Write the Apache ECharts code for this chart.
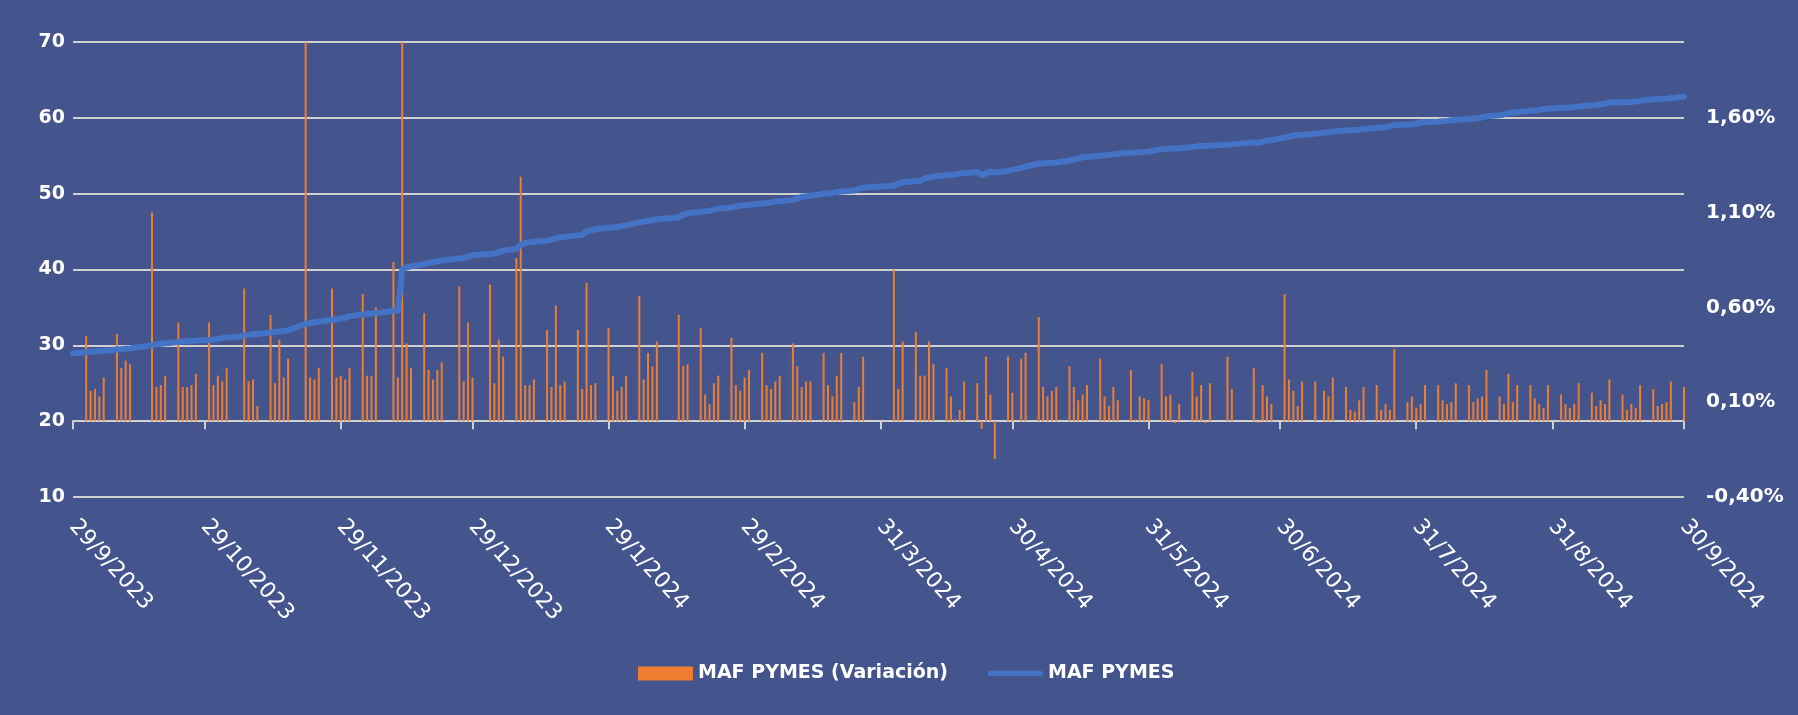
<!DOCTYPE html>
<html>
<head>
<meta charset="utf-8">
<script src="https://cdn.jsdelivr.net/npm/echarts@6/dist/echarts.min.js"></script>
<style>
  html, body { margin: 0; padding: 0; background: #44548C; }
  #chart { width: 1798px; height: 715px; }
</style>
</head>
<body>
<div id="chart"></div>
<script>
// fechas con dato (días hábiles)
const fechas = [
  '29/9/2023',
  '2/10/2023','3/10/2023','4/10/2023','5/10/2023','6/10/2023','9/10/2023','10/10/2023','11/10/2023','12/10/2023','17/10/2023','18/10/2023','19/10/2023','20/10/2023','23/10/2023','24/10/2023','25/10/2023','26/10/2023','27/10/2023','30/10/2023','31/10/2023',
  '1/11/2023','2/11/2023','3/11/2023','6/11/2023','7/11/2023','8/11/2023','9/11/2023','10/11/2023','13/11/2023','14/11/2023','15/11/2023','16/11/2023','17/11/2023','21/11/2023','22/11/2023','23/11/2023','24/11/2023','27/11/2023','28/11/2023','29/11/2023','30/11/2023',
  '1/12/2023','4/12/2023','5/12/2023','6/12/2023','7/12/2023','11/12/2023','12/12/2023','13/12/2023','14/12/2023','15/12/2023','18/12/2023','19/12/2023','20/12/2023','21/12/2023','22/12/2023','26/12/2023','27/12/2023','28/12/2023','29/12/2023',
  '2/1/2024','3/1/2024','4/1/2024','5/1/2024','8/1/2024','9/1/2024','10/1/2024','11/1/2024','12/1/2024','15/1/2024','16/1/2024','17/1/2024','18/1/2024','19/1/2024','22/1/2024','23/1/2024','24/1/2024','25/1/2024','26/1/2024','29/1/2024','30/1/2024','31/1/2024',
  '1/2/2024','2/2/2024','5/2/2024','6/2/2024','7/2/2024','8/2/2024','9/2/2024','14/2/2024','15/2/2024','16/2/2024','19/2/2024','20/2/2024','21/2/2024','22/2/2024','23/2/2024','26/2/2024','27/2/2024','28/2/2024','29/2/2024',
  '1/3/2024','4/3/2024','5/3/2024','6/3/2024','7/3/2024','8/3/2024','11/3/2024','12/3/2024','13/3/2024','14/3/2024','15/3/2024','18/3/2024','19/3/2024','20/3/2024','21/3/2024','22/3/2024','25/3/2024','26/3/2024','27/3/2024',
  '3/4/2024','4/4/2024','5/4/2024','8/4/2024','9/4/2024','10/4/2024','11/4/2024','12/4/2024','15/4/2024','16/4/2024','17/4/2024','18/4/2024','19/4/2024','22/4/2024','23/4/2024','24/4/2024','25/4/2024','26/4/2024','29/4/2024','30/4/2024',
  '2/5/2024','3/5/2024','6/5/2024','7/5/2024','8/5/2024','9/5/2024','10/5/2024','13/5/2024','14/5/2024','15/5/2024','16/5/2024','17/5/2024','20/5/2024','21/5/2024','22/5/2024','23/5/2024','24/5/2024','27/5/2024','28/5/2024','29/5/2024','30/5/2024','31/5/2024',
  '3/6/2024','4/6/2024','5/6/2024','6/6/2024','7/6/2024','10/6/2024','11/6/2024','12/6/2024','13/6/2024','14/6/2024','18/6/2024','19/6/2024','24/6/2024','25/6/2024','26/6/2024','27/6/2024','28/6/2024',
  '1/7/2024','2/7/2024','3/7/2024','4/7/2024','5/7/2024','8/7/2024','10/7/2024','11/7/2024','12/7/2024','15/7/2024','16/7/2024','17/7/2024','18/7/2024','19/7/2024','22/7/2024','23/7/2024','24/7/2024','25/7/2024','26/7/2024','29/7/2024','30/7/2024','31/7/2024',
  '1/8/2024','2/8/2024','5/8/2024','6/8/2024','7/8/2024','8/8/2024','9/8/2024','12/8/2024','13/8/2024','14/8/2024','15/8/2024','16/8/2024','19/8/2024','20/8/2024','21/8/2024','22/8/2024','23/8/2024','26/8/2024','27/8/2024','28/8/2024','29/8/2024','30/8/2024',
  '2/9/2024','3/9/2024','4/9/2024','5/9/2024','6/9/2024','9/9/2024','10/9/2024','11/9/2024','12/9/2024','13/9/2024','16/9/2024','17/9/2024','18/9/2024','19/9/2024','20/9/2024','23/9/2024','24/9/2024','25/9/2024','26/9/2024','27/9/2024','30/9/2024'
];

// variación diaria, en %
const variacion = [
  0,
  0.45,0.16,0.17,0.13,0.23, 0.46,0.28,0.32,0.30, 1.10,0.18,0.19,0.24, 0.52,0.18,0.18,0.19,0.25, 0.52,0.19,
  0.24,0.21,0.28, 0,0.70,0.21,0.22,0.08, 0.56,0.20,0.43,0.23,0.33, 2.05,0.23,0.22,0.28, 0.70,0.23,0.24,0.22,
  0.28, 0.67,0.24,0.24,0.60, 0.84,0.23,2.05,0.41,0.28, 0.57,0.27,0.22,0.27,0.31, 0.71,0.21,0.52,0.23,
  0.72,0.20,0.43,0.34, 0.86,1.29,0.19,0.19,0.22, 0.48,0.18,0.61,0.19,0.21, 0.48,0.17,0.73,0.19,0.20, 0.49,0.24,0.16,
  0.18,0.24, 0.66,0.22,0.36,0.29,0.42, 0.56,0.29,0.30, 0.49,0.14,0.09,0.20,0.24, 0.44,0.19,0.16,0.23,
  0.27, 0.36,0.19,0.17,0.21,0.24, 0.41,0.29,0.18,0.21,0.21, 0.36,0.19,0.13,0.24,0.36, 0.10,0.18,0.34,
  0.80,0.17,0.42, 0.47,0.24,0.24,0.42,0.30, 0.28,0.13,0.01,0.06,0.21, 0.20,-0.04,0.34,0.14,-0.20, 0.34,0.15,
  0.33,0.36, 0.55,0.18,0.13,0.16,0.18, 0.29,0.18,0.11,0.14,0.19, 0.33,0.13,0.08,0.18,0.11, 0.27,0.01,0.13,0.12,0.11,
  0.30,0.13,0.14,-0.01,0.09, 0.26,0.13,0.19,-0.01,0.20, 0.34,0.17, 0.28,-0.01,0.19,0.13,0.09,
  0.67,0.22,0.16,0.08,0.21, 0.21,0.16,0.13,0.23, 0.18,0.06,0.05,0.11,0.18, 0.19,0.06,0.09,0.06,0.38, 0.10,0.13,0.07,
  0.09,0.19, 0.19,0.11,0.09,0.10,0.20, 0.19,0.10,0.12,0.13,0.27, 0.13,0.09,0.25,0.10,0.19, 0.19,0.12,0.09,0.07,0.19,
  0.14,0.09,0.07,0.09,0.20, 0.15,0.08,0.11,0.09,0.22, 0.14,0.06,0.09,0.07,0.19, 0.17,0.08,0.09,0.10,0.21, 0.18
];

// valor del índice MAF PYMES
const mafPymes = [
  28.95,
  29.10,29.15,29.20,29.25,29.30, 29.45,29.50,29.55,29.60, 30.00,30.10,30.20,30.27, 30.45,30.50,30.55,30.58,30.62, 30.71,30.78,
  30.85,30.95,31.02, 31.15,31.33,31.38,31.45,31.50, 31.68,31.75,31.82,31.88,31.94, 32.85,32.95,33.05,33.13, 33.35,33.45,33.55,33.62,
  33.85, 34.08,34.15,34.20,34.23, 34.55,34.60,39.95,40.30,40.42, 40.72,40.85,40.95,41.05,41.18, 41.47,41.52,41.70,41.88,
  42.05,42.10,42.30,42.50, 42.72,43.30,43.50,43.60,43.65, 43.80,43.90,44.10,44.26,44.30, 44.50,44.56,45.00,45.15,45.30, 45.50,45.55,45.60,
  45.70,45.85, 46.20,46.30,46.42,46.50,46.63, 46.90,47.20,47.42, 47.60,47.68,47.73,47.90,48.00, 48.17,48.30,48.43,48.48,
  48.55, 48.70,48.75,48.85,48.95,49.00, 49.18,49.35,49.60,49.65,49.72, 49.97,50.05,50.10,50.20,50.28, 50.41,50.60,50.81,
  51.03,51.30,51.51, 51.65,51.69,52.00,52.17,52.25, 52.44,52.50,52.55,52.65,52.70, 52.85,52.45,52.68,52.92,52.78, 53.00,53.14,
  53.40,53.58, 53.95,54.02,54.05,54.08,54.11, 54.37,54.50,54.60,54.81,54.85, 55.00,55.05,55.12,55.20,55.25, 55.40,55.42,55.46,55.51,55.56,
  55.87,55.90,55.95,55.95,56.00, 56.15,56.22,56.31,56.30,56.35, 56.44,56.50, 56.75,56.75,56.85,57.01,57.05,
  57.40,57.50,57.67,57.70,57.75, 57.89,58.05,58.11,58.20, 58.33,58.36,58.38,58.42,58.50, 58.68,58.72,58.80,58.86,59.03, 59.12,59.15,59.20,
  59.38,59.42, 59.50,59.55,59.60,59.68,59.74, 59.85,59.90,59.96,60.05,60.20, 60.35,60.45,60.62,60.68,60.75, 60.92,60.98,61.05,61.14,61.20,
  61.32,61.34,61.36,61.42,61.50, 61.65,61.71,61.80,61.88,62.02, 62.05,62.07,62.10,62.15,62.24, 62.46,62.48,62.50,62.51,62.60, 62.81
];

// etiquetas del eje de fechas
const etiquetas = ['29/9/2023','29/10/2023','29/11/2023','29/12/2023','29/1/2024','29/2/2024','31/3/2024',
  '30/4/2024','31/5/2024','30/6/2024','31/7/2024','31/8/2024','30/9/2024'];

const desde = Date.UTC(2023, 8, 29);
const hasta = Date.UTC(2024, 8, 30);

(function(){
  if (fechas.length !== variacion.length || fechas.length !== mafPymes.length) {
    console.warn('largos distintos', fechas.length, variacion.length, mafPymes.length);
  }

  // eje de categorías con todos los días corridos
  const dias = [];
  for (let t = desde; t <= hasta; t += 86400000) {
    const d = new Date(t);
    dias.push(d.getUTCDate() + '/' + (d.getUTCMonth() + 1) + '/' + d.getUTCFullYear());
  }
  const idx = new Map(fechas.map((f, i) => [f, i]));
  const barras = dias.map(d => idx.has(d) ? variacion[idx.get(d)] : null);
  const linea = dias.map(d => idx.has(d) ? mafPymes[idx.get(d)] : null);
  const setEtiquetas = new Set(etiquetas);
  const mostrar = (i, v) => setEtiquetas.has(v);

  const gris = '#D0D0D0';
  const fuente = 'DejaVu Sans';
  // icono de línea gruesa redondeada para la leyenda
  const iconoLinea = 'path://M3,0 L57,0 A3,3 0 0 1 57,6 L3,6 A3,3 0 0 1 3,0 Z';

  const chart = echarts.init(document.getElementById('chart'));
  chart.setOption({
    backgroundColor: '#44548C',
    animation: false,
    grid: { left: 73, right: 114, top: 42, bottom: 218, containLabel: false },
    legend: {
      left: 633, top: 659,
      itemWidth: 55, itemHeight: 14, itemGap: 40,
      textStyle: { color: '#fff', fontFamily: fuente, fontWeight: 'bold', fontSize: 19 },
      data: [{ name: 'MAF PYMES (Variación)', icon: 'rect' }, { name: 'MAF PYMES', icon: iconoLinea }]
    },
    xAxis: {
      type: 'category',
      data: dias,
      boundaryGap: false,
      axisLine: { lineStyle: { color: gris, width: 2 } },
      axisTick: { show: true, interval: mostrar, length: 8, lineStyle: { color: gris, width: 2 } },
      axisLabel: {
        interval: mostrar, rotate: -48, margin: 26,
        color: '#fff', fontFamily: fuente, fontSize: 22
      },
      splitLine: { show: false }
    },
    yAxis: [
      {
        type: 'value', position: 'left', min: 10, max: 70, interval: 10,
        axisLine: { show: false }, axisTick: { show: false },
        splitLine: { lineStyle: { color: gris, width: 2 } },
        axisLabel: { color: '#fff', fontFamily: fuente, fontWeight: 'bold', fontSize: 19, margin: 8 }
      },
      {
        type: 'value', position: 'right', min: -0.4, max: 2.0, interval: 0.1,
        axisLine: { show: false }, axisTick: { show: false }, splitLine: { show: false },
        axisLabel: {
          color: '#fff', fontFamily: fuente, fontWeight: 'bold', fontSize: 20, margin: 22,
          formatter: v => {
            const k = (v + 0.4) / 0.5;
            if (Math.abs(k - Math.round(k)) > 1e-6) return '';
            return v.toFixed(2).replace('.', ',') + '%';
          }
        }
      }
    ],
    series: [
      {
        name: 'MAF PYMES (Variación)', type: 'bar', yAxisIndex: 1,
        data: barras, barWidth: 2, itemStyle: { color: '#ED7D31' }
      },
      {
        name: 'MAF PYMES', type: 'line', yAxisIndex: 0,
        data: linea, connectNulls: true, symbol: 'none', z: 3,
        lineStyle: { color: '#4472C4', width: 6, cap: 'round', join: 'round' },
        itemStyle: { color: '#4472C4' }
      }
    ]
  });
})();
</script>
</body>
</html>
